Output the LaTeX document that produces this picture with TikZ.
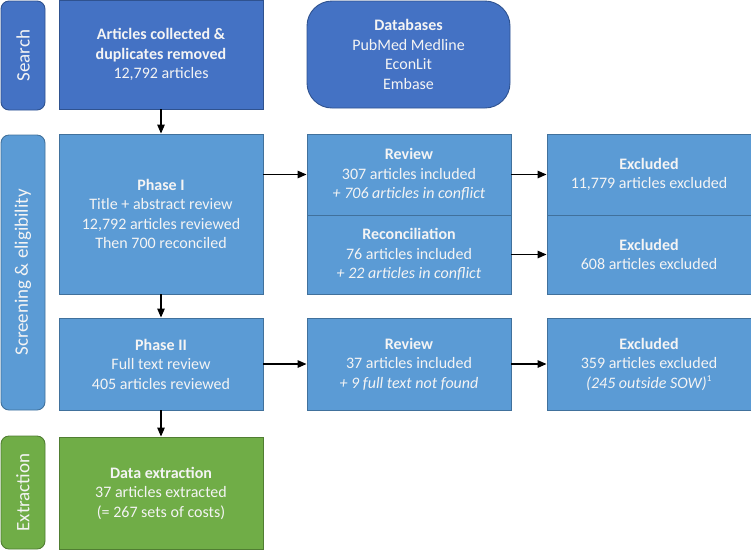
\documentclass[tikz,border=0pt]{standalone}
\usepackage{fontspec}
\setmainfont{Carlito}
\usetikzlibrary{arrows.meta}
\definecolor{dblue}{HTML}{4472C4}
\definecolor{dblueb}{HTML}{2F528F}
\definecolor{lblue}{HTML}{5B9BD5}
\definecolor{lblueb}{HTML}{41719C}
\definecolor{lgreen}{HTML}{70AD47}
\definecolor{lgreenb}{HTML}{507E32}
\definecolor{txt}{HTML}{F4F4F4}
\begin{document}
\begin{tikzpicture}[x=1pt,y=-1pt,
  box/.style={draw, line width=0.9pt, text=txt, align=center, inner sep=0pt,
    font=\fontsize{16}{19.5}\selectfont, minimum width=204pt},
  darkbox/.style={box, fill=dblue, draw=dblueb},
  lightbox/.style={box, fill=lblue, draw=lblueb},
  greenbox/.style={box, fill=lgreen, draw=lgreenb},
  sidelabel/.style={draw, line width=0.9pt, rounded corners=8pt, text=txt, inner sep=0pt,
    font=\fontsize{19}{22}\selectfont, minimum width=44pt},
  arr/.style={-{Triangle[length=9pt,width=7.5pt]}, line width=1.3pt, black}
]
\useasboundingbox (0,0) rectangle (751,550);
% side labels
\node[sidelabel, fill=dblue, draw=dblueb, minimum height=109pt] (search) at (23,55.5)
  {\rotatebox{90}{Search}};
\node[sidelabel, fill=lblue, draw=lblueb, minimum height=275pt] (screen) at (23,272.5)
  {\rotatebox{90}{Screening \& eligibility}};
\node[sidelabel, fill=lgreen, draw=lgreenb, minimum height=113pt] (extr) at (23,492.5)
  {\rotatebox{90}{Extraction}};
% search row
\node[darkbox, minimum height=109pt] (coll) at (161,54.5)
  {\textbf{Articles collected \&}\\\textbf{duplicates removed}\\12,792 articles};
\node[darkbox, rounded corners=25pt, minimum width=203pt, minimum height=107pt] (db) at (408.5,54.5)
  {\textbf{Databases}\\PubMed Medline\\EconLit\\Embase};
% phase I
\node[lightbox, minimum height=160pt] (p1) at (161,214)
  {\textbf{Phase I}\\Title + abstract review\\12,792 articles reviewed\\Then 700 reconciled};
\node[lightbox, minimum height=81pt] (rev1) at (409,174.5)
  {\textbf{Review}\\307 articles included\\\textit{+ 706 articles in conflict}};
\node[lightbox, minimum height=79pt] (rec) at (409,254.5)
  {\textbf{Reconciliation}\\76 articles included\\\textit{+ 22 articles in conflict}};
\node[lightbox, minimum height=81pt] (ex1) at (649,174.5)
  {\textbf{Excluded}\\11,779 articles excluded};
\node[lightbox, minimum height=79pt] (ex2) at (649,254.5)
  {\textbf{Excluded}\\608 articles excluded};
% phase II
\node[lightbox, minimum height=92pt] (p2) at (161,364)
  {\textbf{Phase II}\\Full text review\\405 articles reviewed};
\node[lightbox, minimum height=92pt] (rev2) at (409,364)
  {\textbf{Review}\\37 articles included\\\textit{+ 9 full text not found}};
\node[lightbox, minimum height=92pt] (ex3) at (649,364)
  {\textbf{Excluded}\\359 articles excluded\\\textit{(245 outside SOW)}\textsuperscript{\fontsize{9}{9}\selectfont 1}};
% extraction
\node[greenbox, minimum height=112pt] (data) at (161,493)
  {\textbf{Data extraction}\\37 articles extracted\\(= 267 sets of costs)};
% arrows
\draw[arr] (coll.south) -- (p1.north);
\draw[arr] (rev1.west -| p1.east) -- (rev1.west);
\draw[arr] (rev1.east) -- (ex1.west);
\draw[arr] (rec.east) -- (ex2.west);
\draw[arr] (p1.south) -- (p2.north);
\draw[arr] (p2.east) -- (rev2.west);
\draw[arr] (rev2.east) -- (ex3.west);
\draw[arr] (p2.south) -- (data.north);
\end{tikzpicture}
\end{document}
